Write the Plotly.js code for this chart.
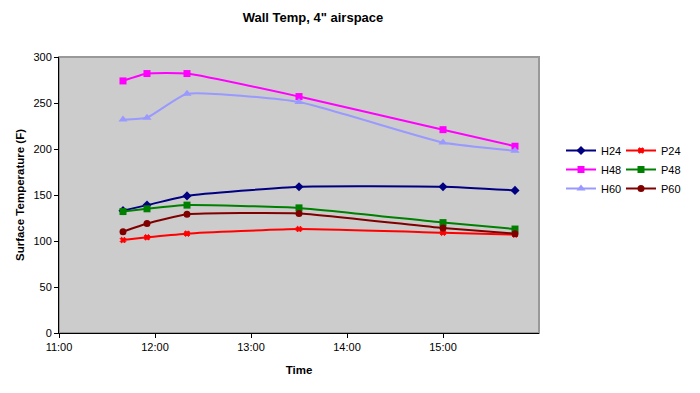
<!DOCTYPE html>
<html>
<head>
<meta charset="utf-8">
<script src="https://cdn.plot.ly/plotly-3.0.1.min.js"></script>
<style>html,body{margin:0;padding:0;background:#fff;}#chart{width:700px;height:393px;}</style>
</head>
<body>
<div id="chart"></div>
<script>
// Data
var times = ['11:40', '11:55', '12:20', '13:30', '15:00', '15:45'];
var H24 = [133, 139, 149, 159, 159, 155];
var P24 = [101, 104, 108, 113, 109, 107];
var H48 = [274, 282, 282, 257, 221, 203];
var P48 = [132, 135, 139, 136, 120, 113];
var H60 = [232, 234, 260, 251, 207, 198];
var P60 = [110, 119, 129, 130, 114, 108];
var xTickLabels = ['11:00', '12:00', '13:00', '14:00', '15:00'];

var day = '2000-01-01 ';
var xs = times.map(function (t) { return day + t; });
var tickVals = xTickLabels.map(function (t) { return day + t; });

function tr(name, y, color, symbol, size, legend) {
  return {
    x: xs, y: y, name: name, type: 'scatter', mode: 'lines+markers',
    line: { color: color, width: 2, shape: 'spline', smoothing: 0.45 },
    marker: { color: color, symbol: symbol, size: size, line: { color: color, width: symbol === 'x' ? 1 : 0 } },
    legend: legend
  };
}

var data = [
  tr('H24', H24, '#000080', 'diamond', 7, 'legend'),
  tr('H48', H48, '#FF00FF', 'square', 7, 'legend'),
  tr('H60', H60, '#9999FF', 'triangle-up', 8, 'legend'),
  tr('P24', P24, '#FF0000', 'x', 5, 'legend2'),
  tr('P48', P48, '#008000', 'square', 7, 'legend2'),
  tr('P60', P60, '#800000', 'circle', 7, 'legend2')
];

var font = { family: 'Liberation Sans, Arial, sans-serif', size: 11, color: '#000' };

var layout = {
  width: 700, height: 393,
  margin: { l: 59, r: 161, t: 57, b: 60, pad: 0 },
  paper_bgcolor: '#FFFFFF',
  plot_bgcolor: '#CCCCCC',
  font: font,
  showlegend: true,
  title: {
    text: 'Wall Temp, 4" airspace',
    font: { family: font.family, size: 13, color: '#000', weight: 'bold' },
    xref: 'container', yref: 'container',
    x: 313 / 700, xanchor: 'center', y: 1 - 17 / 393, yanchor: 'middle'
  },
  xaxis: {
    type: 'date',
    range: [day + '11:00', day + '16:00'],
    tickmode: 'array', tickvals: tickVals, ticktext: xTickLabels,
    showgrid: false, zeroline: false,
    showline: true, linecolor: '#000', linewidth: 1,
    ticks: 'outside', ticklen: 4, tickcolor: '#000',
    tickfont: font,
    title: { text: 'Time', font: { family: font.family, size: 11.5, color: '#000', weight: 'bold' }, standoff: 13 }
  },
  yaxis: {
    range: [0, 300],
    tickvals: [0, 50, 100, 150, 200, 250, 300],
    showgrid: false, zeroline: false,
    showline: true, linecolor: '#000', linewidth: 1,
    ticks: 'outside', ticklen: 4, tickcolor: '#000',
    tickfont: font,
    title: { text: 'Surface Temperature (F)', font: { family: font.family, size: 11.5, color: '#000', weight: 'bold' }, standoff: 6 }
  },
  shapes: [{
    type: 'rect', xref: 'paper', yref: 'paper', x0: 0, x1: 1, y0: 0, y1: 1,
    line: { color: '#999999', width: 2 }, fillcolor: 'rgba(0,0,0,0)', layer: 'below'
  }],
  legend: {
    x: (561 - 59) / 480, xanchor: 'left', y: (333 - 136) / 276, yanchor: 'top',
    bgcolor: 'rgba(0,0,0,0)', borderwidth: 0, font: font, tracegroupgap: 0
  },
  legend2: {
    x: (621 - 59) / 480, xanchor: 'left', y: (333 - 136) / 276, yanchor: 'top',
    bgcolor: 'rgba(0,0,0,0)', borderwidth: 0, font: font, tracegroupgap: 0
  }
};

Plotly.newPlot('chart', data, layout, { staticPlot: true, displayModeBar: false });
</script>
</body>
</html>
